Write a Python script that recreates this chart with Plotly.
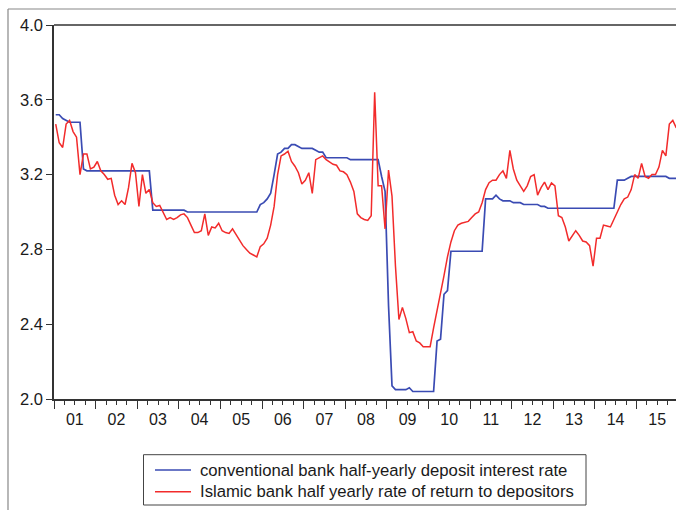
import plotly.graph_objects as go

# Monthly observations, Jan 2001 - Dec 2015
years = list(range(2001, 2016))
year_labels = ["01", "02", "03", "04", "05", "06", "07", "08",
               "09", "10", "11", "12", "13", "14", "15"]

conventional = [
    # 2001
    3.52, 3.52, 3.50, 3.49, 3.48, 3.48, 3.48, 3.48, 3.23, 3.22, 3.22, 3.22,
    # 2002
    3.22, 3.22, 3.22, 3.22, 3.22, 3.22, 3.22, 3.22, 3.22, 3.22, 3.22, 3.22,
    # 2003
    3.22, 3.22, 3.22, 3.22, 3.01, 3.01, 3.01, 3.01, 3.01, 3.01, 3.01, 3.01,
    # 2004
    3.01, 3.01, 3.00, 3.00, 3.00, 3.00, 3.00, 3.00, 3.00, 3.00, 3.00, 3.00,
    # 2005
    3.00, 3.00, 3.00, 3.00, 3.00, 3.00, 3.00, 3.00, 3.00, 3.00, 3.00, 3.04,
    # 2006
    3.05, 3.07, 3.10, 3.20, 3.31, 3.32, 3.34, 3.34, 3.36, 3.36, 3.35, 3.34,
    # 2007
    3.34, 3.34, 3.34, 3.33, 3.32, 3.32, 3.29, 3.29, 3.29, 3.29, 3.29, 3.29,
    # 2008
    3.29, 3.28, 3.28, 3.28, 3.28, 3.28, 3.28, 3.28, 3.28, 3.28, 3.19, 3.11,
    # 2009
    2.50, 2.07, 2.05, 2.05, 2.05, 2.05, 2.06, 2.04, 2.04, 2.04, 2.04, 2.04,
    # 2010
    2.04, 2.04, 2.31, 2.32, 2.56, 2.58, 2.79, 2.79, 2.79, 2.79, 2.79, 2.79,
    # 2011
    2.79, 2.79, 2.79, 2.79, 3.07, 3.07, 3.07, 3.09, 3.07, 3.06, 3.06, 3.06,
    # 2012
    3.05, 3.05, 3.05, 3.04, 3.04, 3.04, 3.04, 3.04, 3.03, 3.03, 3.02, 3.02,
    # 2013
    3.02, 3.02, 3.02, 3.02, 3.02, 3.02, 3.02, 3.02, 3.02, 3.02, 3.02, 3.02,
    # 2014
    3.02, 3.02, 3.02, 3.02, 3.02, 3.02, 3.17, 3.17, 3.17, 3.18, 3.19, 3.19,
    # 2015
    3.19, 3.19, 3.19, 3.19, 3.19, 3.19, 3.19, 3.19, 3.19, 3.18, 3.18, 3.18,
]

islamic = [
    # 2001
    3.47, 3.37, 3.345, 3.47, 3.49, 3.43, 3.40, 3.20, 3.31, 3.31, 3.23, 3.24,
    # 2002
    3.27, 3.22, 3.20, 3.175, 3.18, 3.09, 3.04, 3.06, 3.04, 3.13, 3.26, 3.21,
    # 2003
    3.03, 3.20, 3.10, 3.12, 3.05, 3.03, 3.035, 3.00, 2.96, 2.97, 2.96, 2.97,
    # 2004
    2.985, 2.99, 2.97, 2.93, 2.89, 2.89, 2.90, 2.99, 2.875, 2.92, 2.915, 2.94,
    # 2005
    2.90, 2.89, 2.885, 2.91, 2.88, 2.85, 2.82, 2.80, 2.78, 2.77, 2.76, 2.815,
    # 2006
    2.83, 2.86, 2.93, 3.03, 3.20, 3.30, 3.31, 3.325, 3.27, 3.245, 3.21, 3.15,
    # 2007
    3.17, 3.21, 3.10, 3.28, 3.29, 3.30, 3.28, 3.265, 3.255, 3.25, 3.22, 3.215,
    # 2008
    3.20, 3.16, 3.11, 2.99, 2.97, 2.96, 2.955, 2.98, 3.64, 3.14, 3.14, 2.91,
    # 2009
    3.224, 3.085, 2.71, 2.425, 2.49, 2.43, 2.355, 2.36, 2.31, 2.30, 2.28, 2.28,
    # 2010
    2.28, 2.38, 2.47, 2.57, 2.66, 2.76, 2.84, 2.90, 2.93, 2.94, 2.945, 2.95,
    # 2011
    2.97, 2.99, 3.00, 3.05, 3.12, 3.157, 3.17, 3.17, 3.20, 3.22, 3.18, 3.33,
    # 2012
    3.23, 3.17, 3.14, 3.11, 3.14, 3.19, 3.20, 3.09, 3.13, 3.16, 3.12, 3.155,
    # 2013
    3.14, 2.98, 2.97, 2.92, 2.845, 2.875, 2.90, 2.875, 2.845, 2.84, 2.82, 2.71,
    # 2014
    2.86, 2.86, 2.93, 2.925, 2.92, 2.96, 3.00, 3.04, 3.07, 3.08, 3.12, 3.20,
    # 2015
    3.18, 3.26, 3.19, 3.18, 3.20, 3.20, 3.24, 3.33, 3.30, 3.47, 3.49, 3.45,
]

series_names = [
    "conventional bank half-yearly deposit interest rate",
    "Islamic bank half yearly rate of return to depositors",
]

n_months = len(conventional)
month_idx = list(range(n_months))
year_centres = [12 * k + 5.5 for k in range(len(years))]

BLUE = "#3a4bb3"
RED = "#f22b2b"
FONT = "Liberation Sans, Arial, sans-serif"
TEXT = "#1a1a1a"

# plot-area geometry (pixels)
W, H = 676, 510
L, R, T, B = 54, 0, 25, 111
pw, ph = W - L - R, H - T - B
px_per_month = 41.6 / 12
x_lo = -0.5
x_hi = x_lo + pw / px_per_month


def xp(px):
    return (px - L) / pw


def yp(py):
    return 1 - (py - T) / ph


colors = [BLUE, RED]
widths = [1.7, 1.5]

fig = go.Figure()
for name, vals, col, w in zip(series_names, [conventional, islamic], colors, widths):
    fig.add_trace(go.Scatter(
        x=month_idx, y=vals, mode="lines", name=name,
        line=dict(color=col, width=w), showlegend=False,
    ))
# carrier for the year labels axis
fig.add_trace(go.Scatter(
    x=year_centres, y=[None] * len(year_centres), xaxis="x2",
    mode="lines", showlegend=False, hoverinfo="skip",
))

# legend box drawn as a framed key below the plot
legend_box = (143.5, 454.7, 586, 505)
row_y = [470, 491.7]
shapes = [
    # top border of the plot frame
    dict(type="line", xref="paper", yref="paper", x0=0, x1=1.01,
         y0=1, y1=1, line=dict(color="#333", width=1.5)),
    # outer frame of the graphic
    dict(type="line", xref="paper", yref="paper", x0=xp(8), x1=xp(8),
         y0=yp(9), y1=yp(520), line=dict(color="#888", width=1.2)),
    dict(type="line", xref="paper", yref="paper", x0=xp(8), x1=xp(690),
         y0=yp(9), y1=yp(9), line=dict(color="#888", width=1.2)),
    # key frame
    dict(type="rect", xref="paper", yref="paper",
         x0=xp(legend_box[0]), x1=xp(legend_box[2]),
         y0=yp(legend_box[1]), y1=yp(legend_box[3]),
         line=dict(color="#444", width=1), fillcolor="white"),
]
annotations = []
for name, col, ry in zip(series_names, colors, row_y):
    shapes.append(dict(type="line", xref="paper", yref="paper",
                       x0=xp(155), x1=xp(191), y0=yp(ry), y1=yp(ry),
                       line=dict(color=col, width=1.5)))
    annotations.append(dict(xref="paper", yref="paper", x=xp(198), y=yp(ry),
                            xanchor="left", yanchor="middle", text=name,
                            showarrow=False,
                            font=dict(size=16.7, color=TEXT, family=FONT)))

fig.update_layout(
    width=W, height=H,
    margin=dict(l=L, r=R, t=T, b=B, autoexpand=False),
    paper_bgcolor="white", plot_bgcolor="white",
    font=dict(family=FONT, size=16, color=TEXT),
    showlegend=False,
    xaxis=dict(
        range=[x_lo, x_hi], tickmode="linear", tick0=-0.5, dtick=12,
        ticks="outside", ticklen=8, tickwidth=1, tickcolor="#333",
        showticklabels=False, showgrid=False, zeroline=False,
        showline=True, linecolor="#333", linewidth=1.5,
        minor=dict(tickmode="linear", tick0=-0.5, dtick=3, ticks="outside",
                   ticklen=4, tickwidth=1, tickcolor="#333", showgrid=False),
    ),
    xaxis2=dict(
        overlaying="x", anchor="y", side="bottom", range=[x_lo, x_hi],
        tickmode="array", tickvals=year_centres, ticktext=year_labels,
        ticks="outside", ticklen=6, tickcolor="rgba(0,0,0,0)",
        showgrid=False, zeroline=False, showline=False,
        tickfont=dict(size=16, color=TEXT),
    ),
    yaxis=dict(
        range=[2.0, 4.0], tickmode="linear", tick0=2.0, dtick=0.4,
        tickformat=".1f", ticks="outside", ticklen=6, tickwidth=1,
        tickcolor="#333", showgrid=False, zeroline=False,
        showline=True, linecolor="#333", linewidth=1.5,
        tickfont=dict(size=16.5, color=TEXT),
    ),
    shapes=shapes,
    annotations=annotations,
)

fig.write_html("out.html")
